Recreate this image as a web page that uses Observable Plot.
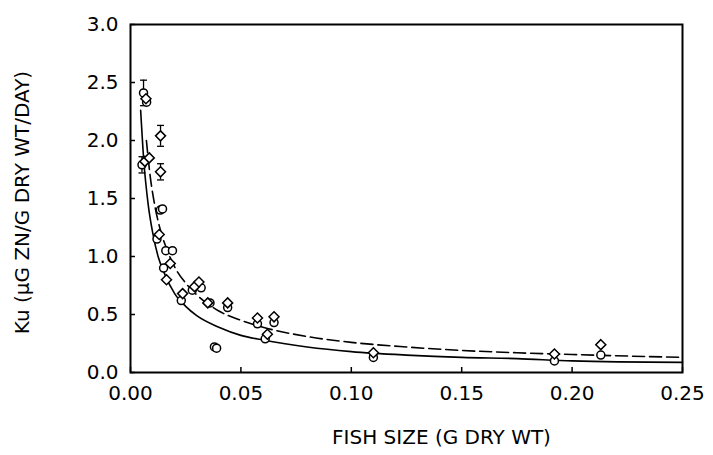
<!DOCTYPE html>
<html>
<head>
<meta charset="utf-8">
<script src="https://cdn.jsdelivr.net/npm/d3@7"></script>
<script src="https://cdn.jsdelivr.net/npm/@observablehq/plot@0.6"></script>
<style>
  html, body { margin: 0; padding: 0; background: #fff; }
</style>
</head>
<body>
<div id="chart"></div>
<script>
// Axis ticks and labels
const xTicks = [0, 0.05, 0.10, 0.15, 0.20, 0.25];
const yTicks = [0, 0.5, 1.0, 1.5, 2.0, 2.5, 3.0];
const xLabel = "FISH SIZE (G DRY WT)";
const yLabel = "Ku (μG ZN/G DRY WT/DAY)";

// Open circles (series 1)
const circX = [0.0059, 0.0073, 0.0052, 0.0135, 0.0145, 0.0120, 0.0160, 0.0190, 0.0150, 0.0230, 0.0280, 0.0320, 0.0360, 0.0440, 0.0575, 0.0650, 0.0610, 0.0380, 0.0390, 0.1100, 0.1920, 0.2130];
const circY = [2.41, 2.33, 1.79, 1.40, 1.41, 1.15, 1.05, 1.05, 0.90, 0.62, 0.71, 0.73, 0.60, 0.56, 0.42, 0.43, 0.29, 0.22, 0.21, 0.13, 0.10, 0.15];

// Open diamonds (series 2)
const diamX = [0.0070, 0.0065, 0.0085, 0.0136, 0.0136, 0.0130, 0.0180, 0.0163, 0.0236, 0.0290, 0.0310, 0.0350, 0.0440, 0.0575, 0.0650, 0.0620, 0.1100, 0.1920, 0.2130];
const diamY = [2.36, 1.82, 1.85, 2.04, 1.73, 1.19, 0.94, 0.80, 0.68, 0.74, 0.78, 0.60, 0.60, 0.47, 0.48, 0.33, 0.17, 0.16, 0.24];

// Error bars
const errX = [0.0059, 0.0136, 0.0136, 0.0052];
const errY = [2.41, 2.04, 1.73, 1.79];
const errE = [0.11, 0.09, 0.07, 0.07];

// Fitted curves
const solidX = [0.0046, 0.006, 0.008, 0.010, 0.0125, 0.015, 0.020, 0.025, 0.030, 0.040, 0.050, 0.060, 0.080, 0.100, 0.125, 0.150, 0.175, 0.200, 0.250];
const solidY = [2.26, 1.83, 1.45, 1.21, 1.00, 0.87, 0.68, 0.57, 0.49, 0.39, 0.32, 0.28, 0.22, 0.18, 0.15, 0.13, 0.12, 0.10, 0.087];
const dashX = [0.0072, 0.009, 0.011, 0.0135, 0.0165, 0.020, 0.025, 0.030, 0.040, 0.050, 0.060, 0.080, 0.100, 0.125, 0.150, 0.175, 0.200, 0.250];
const dashY = [2.00, 1.68, 1.44, 1.23, 1.06, 0.91, 0.77, 0.67, 0.53, 0.45, 0.39, 0.31, 0.26, 0.22, 0.19, 0.17, 0.155, 0.13];

const circles = circX.map((x, i) => ({x, y: circY[i]}));
const diamonds = diamX.map((x, i) => ({x, y: diamY[i]}));
const errs = errX.map((x, i) => ({x, y: errY[i], lo: errY[i] - errE[i], hi: errY[i] + errE[i]}));
const solid = solidX.map((x, i) => ({x, y: solidY[i]}));
const dashed = dashX.map((x, i) => ({x, y: dashY[i]}));

const capSymbol = { draw(ctx) { ctx.moveTo(-3.5, 0); ctx.lineTo(3.5, 0); } };

const W = 713, H = 455;
const mL = 130, mR = 31, mT = 24, mB = 83;
const plotW = W - mL - mR, plotH = H - mT - mB;

const chart = Plot.plot({
  width: W,
  height: H,
  marginLeft: mL,
  marginRight: mR,
  marginTop: mT,
  marginBottom: mB,
  style: {fontFamily: "DejaVu Sans", fontSize: "20px", color: "black", background: "white"},
  x: {domain: [0, 0.25]},
  y: {domain: [0, 3]},
  marks: [
    Plot.axisX(xTicks, {tickSize: 0, tickPadding: 13, tickFormat: d3.format(".2f"), label: null, fontSize: 20}),
    Plot.axisY(yTicks, {tickSize: 0, tickPadding: 12, tickFormat: d3.format(".1f"), label: null, fontSize: 20}),
    Plot.tickX(xTicks, {x: d => d, insetTop: plotH - 5, stroke: "black", strokeWidth: 1.5}),
    Plot.tickY(yTicks, {y: d => d, insetRight: plotW - 5, stroke: "black", strokeWidth: 1.5}),
    Plot.line(solid, {x: "x", y: "y", curve: "monotone-x", stroke: "black", strokeWidth: 1.6}),
    Plot.line(dashed, {x: "x", y: "y", curve: "monotone-x", stroke: "black", strokeWidth: 1.6, strokeDasharray: "12,5"}),
    Plot.ruleX(errs, {x: "x", y1: "lo", y2: "hi", stroke: "black", strokeWidth: 1.3}),
    Plot.dot(errs, {x: "x", y: "lo", symbol: capSymbol, stroke: "black", strokeWidth: 1.3, r: 3}),
    Plot.dot(errs, {x: "x", y: "hi", symbol: capSymbol, stroke: "black", strokeWidth: 1.3, r: 3}),
    Plot.dot(circles, {x: "x", y: "y", r: 4, symbol: "circle", fill: "white", stroke: "black", strokeWidth: 1.5}),
    Plot.dot(diamonds, {x: "x", y: "y", r: 4.5, symbol: "diamond2", fill: "white", stroke: "black", strokeWidth: 1.5}),
    Plot.frame({stroke: "black", strokeWidth: 2}),
    Plot.text([xLabel], {text: d => d, frameAnchor: "bottom", dx: 35, dy: 71, fontSize: 20, fill: "black"}),
    Plot.text([yLabel], {text: d => d, frameAnchor: "left", textAnchor: "middle", rotate: -90, dx: -108, dy: 4, fontSize: 20, fill: "black"})
  ]
});
document.getElementById("chart").appendChild(chart);
</script>
</body>
</html>
